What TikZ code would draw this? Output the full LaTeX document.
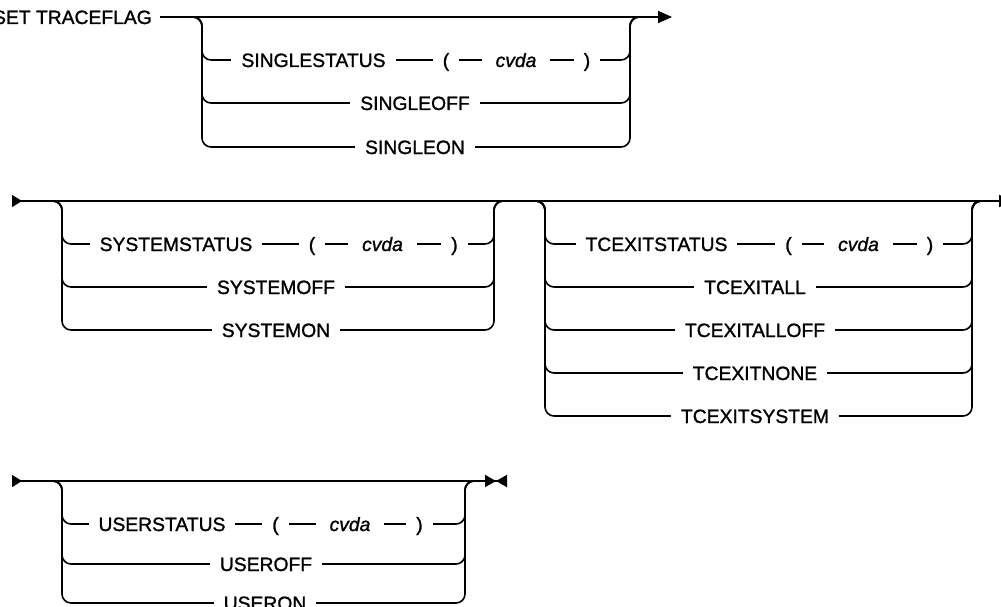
\documentclass[tikz,border=0pt]{standalone}
\usepackage{fontspec}
\setmainfont{Liberation Sans}
\newfontfamily\railfont{Liberation Sans}[FakeBold=1.2]
\usetikzlibrary{arrows.meta}

\tikzset{
  rail/.style={line width=1.6pt, rounded corners=9pt},
  kw/.style={fill=white, inner xsep=10pt, inner ysep=2pt, text height=14pt, text depth=0pt,
    font=\railfont\fontsize{19.3}{23}\selectfont},
  var/.style={kw, inner xsep=14pt, font=\railfont\fontsize{19.3}{23}\selectfont\itshape},
  railgo/.tip={Triangle[reversed, length=10pt, width=12pt]},
  railmore/.tip={Triangle[length=14pt, width=12pt]},
  railstop/.tip={Triangle[length=11pt, width=12pt, sep=0pt] Triangle[reversed, length=11pt, width=12pt]},
}

\begin{document}
\begin{tikzpicture}[x=1pt, y=-1pt]
    \useasboundingbox (0,0) rectangle (1001,607);

    % SET TRACEFLAG, first line
    \node[kw, fill=none, inner xsep=8pt, anchor=east] (settf) at (160,17) {SET TRACEFLAG};
    \coordinate (end1) at (672,17);
    \draw[rail, arrows=-railmore] (settf) -- (end1);
    \coordinate (S-in) at (190,17);
    \coordinate (S-out) at (642,17);
    \foreach \y [count=\i] in {60,103,147} {
        \coordinate (S-l\i) at (202,\y);
        \coordinate (S-r\i) at (630,\y);
        \draw[rail] (S-in) -| (S-l\i) -- (S-r\i) |- (S-out);
    }
    \node[kw] (singlestatus) at (313.5,60) {SINGLESTATUS};
    \node[kw] (single-lp) at (446,60) {(};
    \node[var] (single-cvda) at (516,60) {cvda};
    \node[kw] (single-rp) at (587,60) {)};
    \node[kw] (singleoff) at (415,103) {SINGLEOFF};
    \node[kw] (singleon) at (415,147) {SINGLEON};

    % second line
    \coordinate (go2) at (12,201);
    \coordinate (end2) at (1013,201);
    \draw[rail, arrows=railgo-railmore] (go2) -- (end2);
    % SYSTEM...
    \coordinate (A-in) at (50,201);
    \coordinate (A-out) at (506,201);
    \foreach \y [count=\i] in {244,287,330} {
        \coordinate (A-l\i) at (62,\y);
        \coordinate (A-r\i) at (494,\y);
        \draw[rail] (A-in) -| (A-l\i) -- (A-r\i) |- (A-out);
    }
    \node[kw] (systemstatus) at (176,244) {SYSTEMSTATUS};
    \node[kw] (system-lp) at (312,244) {(};
    \node[var] (system-cvda) at (382.5,244) {cvda};
    \node[kw] (system-rp) at (454.5,244) {)};
    \node[kw] (systemoff) at (276,287) {SYSTEMOFF};
    \node[kw] (systemon) at (276,330) {SYSTEMON};
    % TCEXIT...
    \coordinate (B-in) at (533,201);
    \coordinate (B-out) at (984,201);
    \foreach \y [count=\i] in {244,287,330,373,416} {
        \coordinate (B-l\i) at (545,\y);
        \coordinate (B-r\i) at (972,\y);
        \draw[rail] (B-in) -| (B-l\i) -- (B-r\i) |- (B-out);
    }
    \node[kw] (tcexitstatus) at (656.5,244) {TCEXITSTATUS};
    \node[kw] (tcexit-lp) at (788.5,244) {(};
    \node[var] (tcexit-cvda) at (858.5,244) {cvda};
    \node[kw] (tcexit-rp) at (930,244) {)};
    \node[kw] (tcexitall) at (755,287) {TCEXITALL};
    \node[kw] (tcexitalloff) at (755,330) {TCEXITALLOFF};
    \node[kw] (tcexitnone) at (755,373) {TCEXITNONE};
    \node[kw] (tcexitsystem) at (755,416) {TCEXITSYSTEM};

    % third line
    \coordinate (go3) at (12,481);
    \coordinate (end3) at (507,481);
    \draw[rail, arrows=railgo-railstop] (go3) -- (end3);
    \coordinate (C-in) at (50,481);
    \coordinate (C-out) at (477,481);
    \foreach \y [count=\i] in {524,564,603} {
        \coordinate (C-l\i) at (62,\y);
        \coordinate (C-r\i) at (465,\y);
        \draw[rail] (C-in) -| (C-l\i) -- (C-r\i) |- (C-out);
    }
    \node[kw] (userstatus) at (162,524) {USERSTATUS};
    \node[kw] (user-lp) at (275.5,524) {(};
    \node[var] (user-cvda) at (350,524) {cvda};
    \node[kw] (user-rp) at (419.5,524) {)};
    \node[kw] (useroff) at (266,564) {USEROFF};
    \node[kw] (useron) at (265,603) {USERON};
\end{tikzpicture}
\end{document}
